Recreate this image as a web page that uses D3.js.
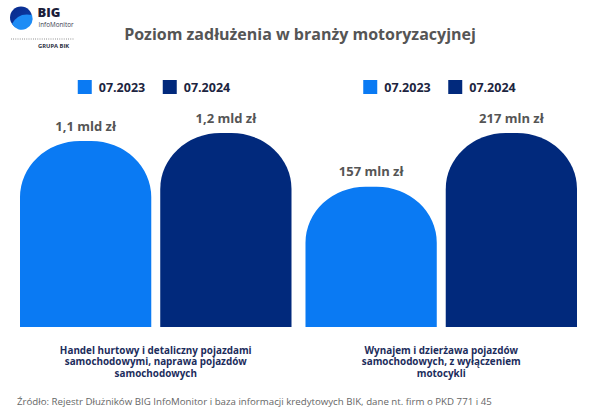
<!DOCTYPE html>
<html>
<head>
<meta charset="utf-8">
<script src="https://cdn.jsdelivr.net/npm/d3@7"></script>
<style>
  html, body { margin: 0; padding: 0; background: #fff; }
  svg text { font-family: "Open Sans", "Noto Sans", sans-serif; }
</style>
</head>
<body>
<div id="wrapper"></div>
<script>
// chart data (mln zł)
const categories = [
    ["Handel hurtowy i detaliczny pojazdami", "samochodowymi, naprawa pojazdów", "samochodowych"],
    ["Wynajem i dzierżawa pojazdów", "samochodowych, z wyłączeniem", "motocykli"]
]
const periods = ["07.2023", "07.2024"]
const debt2023 = [1150, 157]
const debt2024 = [1200, 217]
const valueLabels2023 = ["1,1 mld zł", "157 mln zł"]
const valueLabels2024 = ["1,2 mld zł", "217 mln zł"]
const colors = ["#0a7af3", "#01297c"]

function drawChart() {
    const width = 600
    const height = 420

    const svg = d3.select("#wrapper")
        .append("svg")
            .attr("width", width)
            .attr("height", height)

    // logo in the top left corner
    const logo = svg.append("g")
    const grad = svg.append("defs").append("linearGradient")
        .attr("id", "logoGrad")
        .attr("x1", 0).attr("y1", 0).attr("x2", 1).attr("y2", 1)
    grad.append("stop").attr("offset", "0%").attr("stop-color", "#0a2a8c")
    grad.append("stop").attr("offset", "100%").attr("stop-color", "#0b3ea8")
    logo.append("circle")
        .attr("cx", 21).attr("cy", 17.5).attr("r", 11)
        .attr("fill", "url(#logoGrad)")
    logo.append("path")
        .attr("d", "M12,24 Q18,12 32,15 A11,11 0 0 1 12,24 Z")
        .attr("fill", "#1e8cf5")
    logo.append("text")
        .attr("x", 37.5).attr("y", 17)
        .attr("font-size", 13).attr("font-weight", 800)
        .attr("fill", "#1b1d3a")
        .text("BIG")
    logo.append("text")
        .attr("x", 38.5).attr("y", 26.5)
        .attr("font-size", 6.3)
        .attr("fill", "#3a3d50")
        .text("InfoMonitor")
    logo.append("line")
        .attr("x1", 11).attr("x2", 74).attr("y1", 39).attr("y2", 39)
        .attr("stroke", "#555").attr("stroke-width", 0.8)
        .attr("stroke-dasharray", "0.8,1.4")
    logo.append("text")
        .attr("x", 38).attr("y", 48)
        .attr("font-size", 5.8).attr("font-weight", 700)
        .attr("fill", "#2a2d40")
        .text("GRUPA BIK")

    // title
    svg.append("text")
        .attr("x", 300).attr("y", 40)
        .attr("text-anchor", "middle")
        .attr("font-size", 16).attr("font-weight", 700)
        .attr("fill", "#555555")
        .text("Poziom zadłużenia w branży motoryzacyjnej")

    // scales
    const x0 = d3.scaleBand()
        .domain(d3.range(categories.length))
        .range([20, 577])
        .paddingInner(0.049)

    const x1 = d3.scaleBand()
        .domain(d3.range(periods.length))
        .range([0, x0.bandwidth()])
        .paddingInner(0.064)

    const baseline = 327
    // each group has its own vertical scale, tallest bar reaching the same height
    const yScales = categories.map((c, i) => d3.scaleLinear()
        .domain([0, Math.max(debt2023[i], debt2024[i])])
        .range([baseline, 133]))

    const series = [debt2023, debt2024]
    const seriesLabels = [valueLabels2023, valueLabels2024]

    const rx = 60
    const ry = 56
    const barPath = (x, top, w) => {
        const b = baseline
        return `M${x},${b} L${x},${top + ry} A${rx},${ry} 0 0 1 ${x + rx},${top}` +
            ` L${x + w - rx},${top} A${rx},${ry} 0 0 1 ${x + w},${top + ry} L${x + w},${b} Z`
    }

    categories.forEach((cat, i) => {
        const g = svg.append("g")
            .attr("transform", `translate(${x0(i)},0)`)
        const center = x0.bandwidth() / 2

        // legend per group
        periods.forEach((p, j) => {
            const lx = center - 78 + j * 85
            g.append("rect")
                .attr("x", lx).attr("y", 80)
                .attr("width", 14).attr("height", 14)
                .attr("fill", colors[j])
            g.append("text")
                .attr("x", lx + 21).attr("y", 92)
                .attr("font-size", 12.5).attr("font-weight", 700)
                .attr("fill", "#1d2540")
                .text(p)
        })

        // bars
        series.forEach((s, j) => {
            const top = yScales[i](s[i])
            g.append("path")
                .attr("d", barPath(x1(j), top, x1.bandwidth()))
                .attr("fill", colors[j])
            g.append("text")
                .attr("x", x1(j) + x1.bandwidth() / 2)
                .attr("y", top - 10.5)
                .attr("text-anchor", "middle")
                .attr("font-size", 13).attr("font-weight", 700)
                .attr("fill", "#555555")
                .text(seriesLabels[j][i])
        })

        // category label
        g.append("text")
            .attr("text-anchor", "middle")
            .attr("font-size", 9.9).attr("font-weight", 700)
            .attr("fill", "#1c2d5c")
            .selectAll("tspan")
            .data(cat)
            .join("tspan")
                .attr("x", center)
                .attr("y", (d, k) => 353.5 + k * 11.8)
                .text(d => d)
    })

    // source
    svg.append("text")
        .attr("x", 17).attr("y", 404.5)
        .attr("font-size", 9.7).attr("fill", "#666666")
        .text("Źródło: Rejestr Dłużników BIG InfoMonitor i baza informacji kredytowych BIK, dane nt. firm o PKD 771 i 45")
}

drawChart()
</script>
</body>
</html>
